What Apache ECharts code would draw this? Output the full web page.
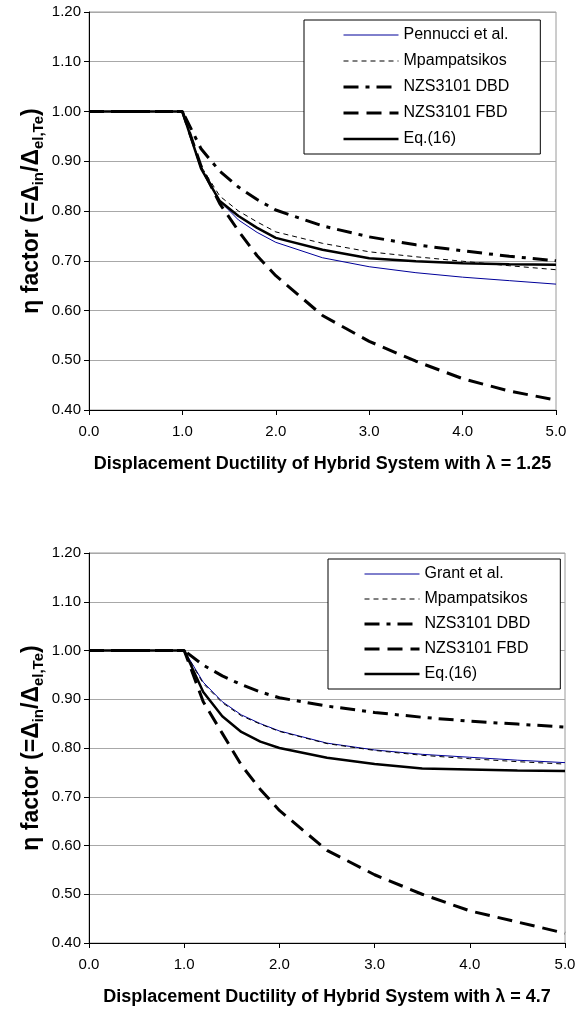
<!DOCTYPE html>
<html>
<head>
<meta charset="utf-8">
<script src="https://cdn.jsdelivr.net/npm/echarts@6/dist/echarts.min.js"></script>
<style>
html,body{margin:0;padding:0;background:#fff;}
#c{width:584px;height:1009px;}
</style>
</head>
<body>
<div id="c"></div>
<script>
// Shared x values (displacement ductility)
const mu = [0, 1.0, 1.2, 1.4, 1.6, 1.8, 2.0, 2.5, 3.0, 3.5, 4.0, 4.5, 5.0];

// Top chart (lambda = 1.25)
const topPennucci = [1, 1, 0.885, 0.82, 0.782, 0.757, 0.737, 0.706, 0.688, 0.676, 0.667, 0.660, 0.653];
const topMpamp    = [1, 1, 0.890, 0.83, 0.800, 0.778, 0.758, 0.735, 0.718, 0.708, 0.699, 0.690, 0.682];
const topDBD      = [1, 1, 0.925, 0.88, 0.848, 0.823, 0.802, 0.770, 0.748, 0.732, 0.720, 0.709, 0.700];
const topFBD      = [1, 1, 0.890, 0.815, 0.760, 0.710, 0.670, 0.590, 0.538, 0.498, 0.463, 0.438, 0.420];
const topEq16     = [1, 1, 0.885, 0.82, 0.790, 0.766, 0.746, 0.722, 0.705, 0.699, 0.695, 0.693, 0.692];

// Bottom chart (lambda = 4.7)
const botGrant    = [1, 1, 0.935, 0.895, 0.868, 0.850, 0.835, 0.810, 0.796, 0.787, 0.781, 0.775, 0.770];
const botMpamp    = [1, 1, 0.932, 0.893, 0.866, 0.849, 0.834, 0.809, 0.795, 0.785, 0.778, 0.772, 0.767];
const botDBD      = [1, 1, 0.970, 0.948, 0.930, 0.915, 0.903, 0.886, 0.873, 0.863, 0.855, 0.849, 0.843];
const botFBD      = [1, 1, 0.895, 0.830, 0.765, 0.715, 0.672, 0.590, 0.540, 0.500, 0.466, 0.443, 0.420];
const botEq16     = [1, 1, 0.915, 0.865, 0.833, 0.813, 0.800, 0.780, 0.767, 0.758, 0.756, 0.754, 0.753];

const yTicks = { min: 0.4, max: 1.2, interval: 0.1 };
const xTicks = { min: 0, max: 5, interval: 1 };
const xTitleTop = 'Displacement Ductility of Hybrid System with λ = 1.25';
const xTitleBot = 'Displacement Ductility of Hybrid System with λ = 4.7';

const FONT = '"Liberation Sans", Arial, sans-serif';
const pair = ys => mu.map((x, i) => [x, ys[i]]);

function xAxis(gridIndex, title) {
  return {
    type: 'value', gridIndex, min: xTicks.min, max: xTicks.max, interval: xTicks.interval,
    axisLine: { show: true, onZero: false, lineStyle: { color: '#000', width: 1 } },
    axisTick: { show: true, inside: false, length: 5, lineStyle: { color: '#000' } },
    axisLabel: { fontFamily: FONT, fontSize: 15, color: '#000', margin: 14, formatter: v => v.toFixed(1) },
    splitLine: { show: false },
    name: title, nameLocation: 'middle', nameGap: 45,
    nameTextStyle: { fontFamily: FONT, fontSize: 18, fontWeight: 'bold', color: '#000' }
  };
}
function yAxis(gridIndex) {
  return {
    type: 'value', gridIndex, min: yTicks.min, max: yTicks.max, interval: yTicks.interval,
    axisLine: { show: true, lineStyle: { color: '#000', width: 1 } },
    axisTick: { show: true, inside: false, length: 5, lineStyle: { color: '#000' } },
    axisLabel: { fontFamily: FONT, fontSize: 15, color: '#000', margin: 8, formatter: v => v.toFixed(2) },
    splitLine: { show: true, lineStyle: { color: '#a8a8a8', width: 1 } },
    name: '{a|η factor (=Δ}{s|in}{a|/Δ}{s|el,Te}{a|)}',
    nameLocation: 'middle', nameRotate: 90, nameGap: 43, nameMoveOverlap: false,
    nameTextStyle: {
      fontFamily: FONT, color: '#000',
      rich: {
        a: { fontFamily: FONT, fontSize: 23, fontWeight: 'bold', color: '#000', lineHeight: 28 },
        s: { fontFamily: FONT, fontSize: 15, fontWeight: 'bold', color: '#000', lineHeight: 28, verticalAlign: 'bottom' }
      }
    }
  };
}

const styles = {
  blue: { color: '#000099', width: 1, type: 'solid' },
  mpamp: { color: '#000', width: 1, type: [5, 4] },
  dbd: { color: '#000', width: 3, type: [15, 7, 4, 7] },
  fbd: { color: '#000', width: 3, type: [15, 8] },
  eq: { color: '#000', width: 2.5, type: 'solid' }
};
function s(name, idx, ys, st) {
  return {
    name, type: 'line', xAxisIndex: idx, yAxisIndex: idx, data: pair(ys),
    symbol: 'none', showSymbol: false, animation: false,
    lineStyle: st, itemStyle: { color: st.color }, z: 3
  };
}
function legend(names, left, top, pad, gap) {
  return {
    orient: 'vertical', left, top, data: names,
    icon: 'inherit',
    itemStyle: { opacity: 0, borderWidth: 0 },
    lineStyle: { width: 'inherit', type: 'inherit', color: 'inherit' },
    itemWidth: 55, itemHeight: 14, itemGap: gap,
    padding: pad, borderColor: '#000', borderWidth: 1, backgroundColor: '#fff',
    textStyle: { fontFamily: FONT, fontSize: 16, color: '#000' },
    selectedMode: false
  };
}

const chart = echarts.init(document.getElementById('c'), null, { renderer: 'canvas' });
chart.setOption({
  backgroundColor: '#fff',
  animation: false,
  grid: [
    { left: 89, top: 12, width: 467, height: 398, show: true, borderColor: '#9a9a9a', borderWidth: 1, backgroundColor: 'transparent' },
    { left: 89, top: 553, width: 476, height: 390, show: true, borderColor: '#9a9a9a', borderWidth: 1, backgroundColor: 'transparent' }
  ],
  xAxis: [xAxis(0, xTitleTop), xAxis(1, xTitleBot)],
  yAxis: [yAxis(0), yAxis(1)],
  legend: [
    legend(['Pennucci et al.', 'Mpampatsikos', 'NZS3101 DBD', 'NZS3101 FBD', 'Eq.(16)'], 304, 20, [7, 31, 7, 38], 10),
    legend(['Grant et al.', 'Mpampatsikos', 'NZS3101 DBD', 'NZS3101 FBD', 'Eq.(16)'], 328, 559, [7, 30, 7, 35], 9)
  ],
  series: [
    s('Pennucci et al.', 0, topPennucci, styles.blue),
    s('Mpampatsikos', 0, topMpamp, styles.mpamp),
    s('NZS3101 DBD', 0, topDBD, styles.dbd),
    s('NZS3101 FBD', 0, topFBD, styles.fbd),
    s('Eq.(16)', 0, topEq16, styles.eq),
    s('Grant et al.', 1, botGrant, styles.blue),
    s('Mpampatsikos', 1, botMpamp, styles.mpamp),
    s('NZS3101 DBD', 1, botDBD, styles.dbd),
    s('NZS3101 FBD', 1, botFBD, styles.fbd),
    s('Eq.(16)', 1, botEq16, styles.eq)
  ]
});
</script>
</body>
</html>
